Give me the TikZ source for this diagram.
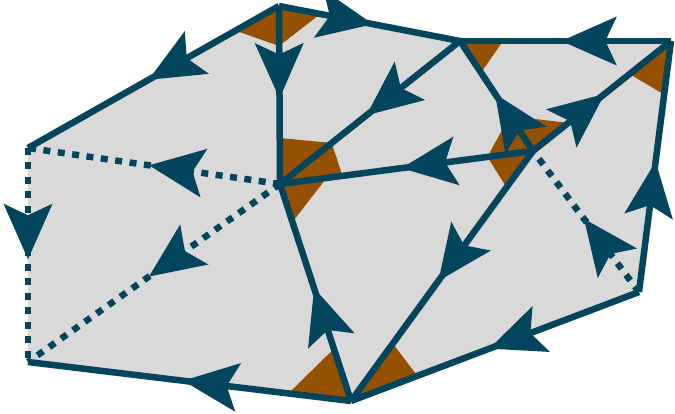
\documentclass[tikz,border=0pt]{standalone}
\usetikzlibrary{calc, arrows.meta, decorations.markings}
\definecolor{meshline}{HTML}{04455E}
\definecolor{meshfill}{HTML}{D9D9D9}
\definecolor{meshangle}{HTML}{955000}

\begin{document}
\begin{tikzpicture}[
    edge/.style={draw=meshline, line width=0.13cm},
    hidden/.style={edge, dash pattern=on 0.14cm off 0.15cm},
    mid/.style={postaction={decorate}, decoration={markings,
        mark=at position 0.52 with {\arrow{Stealth[length=11mm, width=9.6mm, inset=2.2mm]}}}},
    wedge/.style={fill=meshangle},
  ]
  \useasboundingbox (0,0) rectangle (13.5,8.28);

  \coordinate (A) at (0.56,5.32);
  \coordinate (B) at (5.58,8.16);
  \coordinate (C) at (9.20,7.46);
  \coordinate (D) at (13.42,7.46);
  \coordinate (E) at (12.78,2.44);
  \coordinate (F) at (7.02,0.26);
  \coordinate (G) at (0.56,1.04);
  \coordinate (H) at (5.60,4.60);
  \coordinate (I) at (10.66,5.26);

  \fill[meshfill] (A) -- (B) -- (C) -- (D) -- (E) -- (F) -- (G) -- cycle;

  % angle wedges
  \fill[wedge] (B) -- ($(B)!1.0cm!(A)$) -- ($(B)!0.8cm!(H)$) -- cycle;
  \fill[wedge] (B) -- ($(B)!0.8cm!(H)$) -- ($(B)!0.84cm!(C)$) -- cycle;
  \fill[wedge] (H) -- ($(H)!0.92cm!(B)$) -- ($(H)!1.32cm!(C)$) -- cycle;
  \fill[wedge] (H) -- ($(H)!1.32cm!(C)$) -- ($(H)!1.26cm!(I)$) -- cycle;
  \fill[wedge] (H) -- ($(H)!0.94cm!(I)$) -- ($(H)!0.8cm!(F)$) -- cycle;
  \fill[wedge] (C) -- ($(C)!0.86cm!(D)$) -- ($(C)!0.76cm!(I)$) -- cycle;
  \fill[wedge] (D) -- ($(D)!1.06cm!(I)$) -- ($(D)!1.08cm!(E)$) -- cycle;
  \fill[wedge] (I) -- ($(I)!0.92cm!(H)$) -- ($(I)!0.84cm!(C)$) -- cycle;
  \fill[wedge] (I) -- ($(I)!0.84cm!(C)$) -- ($(I)!0.9cm!(D)$) -- cycle;
  \fill[wedge] (I) -- ($(I)!0.92cm!(H)$) -- ($(I)!0.9cm!(F)$) -- cycle;
  \fill[wedge] (F) -- ($(F)!1.26cm!(G)$) -- ($(F)!1.1cm!(H)$) -- cycle;
  \fill[wedge] (F) -- ($(F)!1.42cm!(I)$) -- ($(F)!1.42cm!(E)$) -- cycle;

  % outer edges
  \draw[edge, mid] (B) -- (A);
  \draw[edge, mid] (B) -- (C);
  \draw[edge, mid] (D) -- (C);
  \draw[edge, mid] (E) -- (D);
  \draw[edge, mid] (E) -- (F);
  \draw[edge, mid] (F) -- (G);
  \draw[hidden, mid] (A) -- (G);

  % inner edges
  \draw[hidden, mid] (H) -- (A);
  \draw[hidden, mid] (H) -- (G);
  \draw[hidden, mid] (E) -- (I);
  \draw[edge, mid] (B) -- (H);
  \draw[edge, mid] (C) -- (H);
  \draw[edge, mid] (I) -- (H);
  \draw[edge, mid] (F) -- (H);
  \draw[edge, mid] (I) -- (C);
  \draw[edge, mid] (I) -- (D);
  \draw[edge, mid] (I) -- (F);
\end{tikzpicture}
\end{document}
